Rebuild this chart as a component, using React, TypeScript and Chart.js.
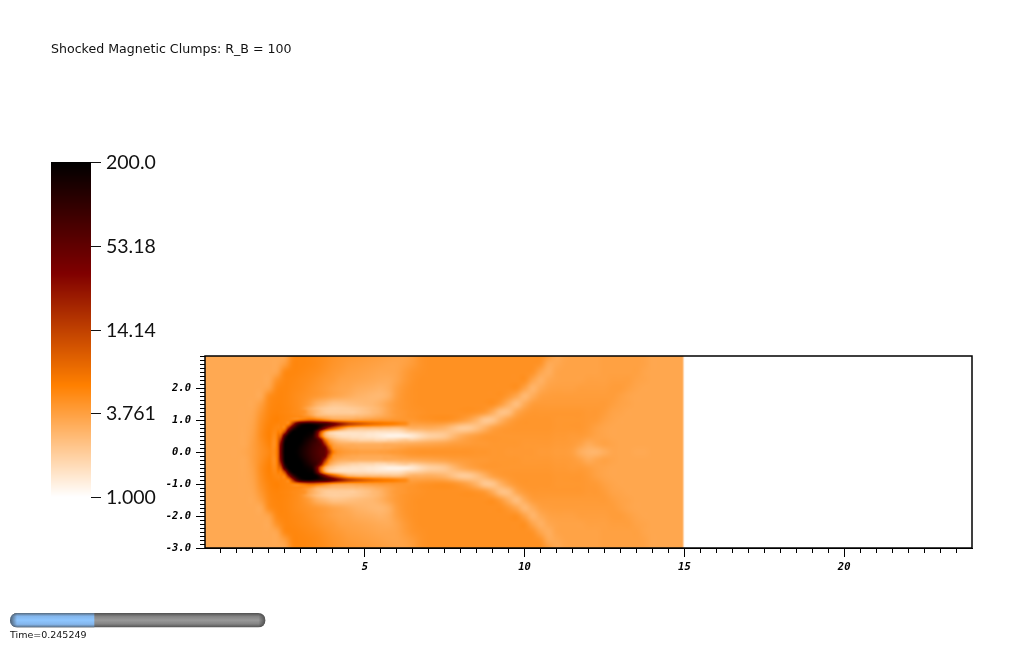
import React, { useEffect, useRef } from "react";
import { Chart, registerables } from "chart.js";

Chart.register(...registerables);

// ---------- text ----------
const titleText = "Shocked Magnetic Clumps: R_B = 100";
const timeText = "Time=0.245249";
const timeFraction = 0.33;
const colorbarValues = [200, 53.18, 14.14, 3.761, 1];
const colorbarLabels = ["200.0", "53.18", "14.14", "3.761", "1.000"];

// ---------- density field, upper half (the picture is mirrored about y = 0) ----------
// Coarse grid: x = 0..15 every 0.25, one row per y below
const coarseY = [0, 0.25, 0.5, 0.75, 1, 1.25, 1.5, 1.75, 2, 2.25, 2.5, 2.75, 3];
const coarseY000 = [
  3.3,3.3,3.3,3.3, 3.3,3.4,3.8,4.5, 5.2,6.5,120,200, 200,200,90,70, 6.5,4.2,3.9,3.8, 3.7,3.7,3.8,3.9, 4.0,4.2,4.3,4.4, 4.4,4.4,4.4,4.4,
  4.4,4.4,4.3,4.3, 4.2,4.2,4.1,4.1, 4.1,4.1,4.0,4.0, 3.9,3.9,3.7,3.1, 2.8,2.8,3.1,3.4, 3.4,3.4,3.3,3.3, 3.4,3.4,3.4,3.4, 3.4];
const coarseY025 = [
  3.3,3.3,3.3,3.3, 3.3,3.3,3.8,4.6, 5.5,6.2,180,200, 200,200,200,25, 3.9,3.2,3.0,3.0, 2.9,2.9,2.9,3.0, 3.0,3.1,3.2,3.3, 3.4,3.5,3.6,3.8,
  3.9,4.0,4.1,4.1, 4.2,4.2,4.2,4.2, 4.1,4.1,4.1,4.1, 4.0,4.0,3.9,3.6, 3.2,3.4,3.6,3.5, 3.4,3.4,3.4,3.4, 3.4,3.4,3.4,3.4, 3.4];
const coarseY050 = [
  3.3,3.3,3.3,3.3, 3.3,3.3,3.7,4.8, 5.7,5.8,50,200, 200,200,50,3.2, 1.9,1.6,1.55,1.5, 1.45,1.4,1.3,1.2, 1.2,1.25,1.4,1.65, 1.9,2.0,2.15,2.6,
  3.1,3.5,3.8,4.1, 4.2,4.2,4.2,4.2, 4.2,4.2,4.2,4.2, 4.1,4.1,4.0,4.0, 3.8,3.6,3.5,3.4, 3.4,3.4,3.4,3.4, 3.4,3.4,3.4,3.4, 3.4];
const coarseY075 = [
  3.3,3.3,3.3,3.3, 3.3,3.3,3.6,4.7, 5.6,5.3,6,40, 200,200,180,40, 12,5.5,3.2,2.8, 2.7,2.6,2.6,2.5, 2.4,2.7,3.0,3.0, 3.1,3.0,2.8,2.4,
  2.1,2.1,2.4,2.9, 3.6,4.0,4.2,4.3, 4.3,4.3,4.3,4.3, 4.2,4.2,4.2,4.2, 4.0,3.7,3.5,3.4, 3.4,3.4,3.4,3.4, 3.4,3.4,3.4,3.4, 3.4];
const coarseY100 = [
  3.3,3.3,3.3,3.3, 3.3,3.3,3.5,4.5, 5.4,5.7,5.6,5.3, 6,16,11,6, 4.5,4.0,3.8,3.9, 4.0,4.1,4.2,4.3, 4.3,4.2,4.2,4.4, 4.5,4.6,4.6,4.4,
  4.0,3.5,2.85,2.2, 2.25,2.9,3.6,4.1, 4.3,4.3,4.3,4.3, 4.2,4.2,4.2,4.2, 4.1,4.0,3.7,3.5, 3.4,3.4,3.4,3.4, 3.4,3.4,3.4,3.4, 3.4];
const coarseY125 = [
  3.3,3.3,3.3,3.3, 3.3,3.3,3.4,4.2, 5.2,5.5,5.4,5.1, 4.6,3.5,2.6,2.1, 2.0,2.0,2.0,2.1, 2.3,2.6,2.9,3.5, 4.0,4.3,4.4,4.5, 4.6,4.6,4.6,4.6,
  4.6,4.6,4.4,4.05, 3.2,2.4,2.45,3.35, 3.95,4.2,4.2,4.2, 4.2,4.2,4.2,4.2, 4.1,4.1,3.9,3.6, 3.5,3.4,3.4,3.4, 3.4,3.4,3.4,3.4, 3.4];
const coarseY150 = [
  3.3,3.3,3.3,3.3, 3.3,3.3,3.3,3.8, 5.0,5.4,5.3,5.0, 4.6,3.9,3.0,2.6, 2.3,2.3,2.4,2.5, 2.6,2.7,3.0,3.5, 4.0,4.3,4.5,4.6, 4.6,4.6,4.6,4.6,
  4.6,4.6,4.6,4.6, 4.6,3.9,3.0,2.5, 3.2,3.85,4.0,4.0, 4.0,4.0,4.0,4.0, 4.0,4.0,4.0,3.8, 3.6,3.5,3.4,3.4, 3.4,3.4,3.4,3.4, 3.4];
const coarseY175 = [
  3.3,3.3,3.3,3.3, 3.3,3.3,3.3,3.3, 4.7,5.3,5.3,5.0, 4.7,4.4,4.1,3.8, 3.5,3.3,3.1,2.9, 2.8,2.7,2.7,3.0, 3.8,4.3,4.5,4.6, 4.6,4.6,4.6,4.6,
  4.6,4.6,4.6,4.6, 4.6,4.6,4.1,3.4, 2.7,3.15,3.7,3.85, 3.9,3.9,3.9,3.9, 3.9,3.9,3.9,3.9, 3.7,3.5,3.4,3.4, 3.4,3.4,3.4,3.4, 3.4];
const coarseY200 = [
  3.3,3.3,3.3,3.3, 3.3,3.3,3.3,3.3, 3.6,5.0,5.3,5.1, 4.9,4.6,4.3,4.0, 3.7,3.5,3.4,3.2, 3.1,3.0,2.9,3.1, 3.7,4.2,4.5,4.6, 4.6,4.6,4.6,4.6,
  4.6,4.6,4.6,4.6, 4.6,4.6,4.6,4.6, 3.65,2.85,3.25,3.6, 3.7,3.7,3.7,3.8, 3.8,3.8,3.8,3.9, 3.9,3.7,3.5,3.4, 3.4,3.4,3.4,3.4, 3.4];
const coarseY225 = [
  3.3,3.3,3.3,3.3, 3.3,3.3,3.3,3.3, 3.3,4.4,5.2,5.2, 5.0,4.8,4.5,4.2, 4.0,3.7,3.6,3.5, 3.4,3.3,3.2,3.2, 3.5,4.0,4.4,4.6, 4.6,4.6,4.6,4.6,
  4.6,4.6,4.6,4.6, 4.6,4.6,4.6,4.6, 4.6,3.55,3.0,3.35, 3.55,3.6,3.6,3.6, 3.7,3.7,3.7,3.8, 3.8,3.8,3.6,3.5, 3.4,3.4,3.4,3.4, 3.4];
const coarseY250 = [
  3.3,3.3,3.3,3.3, 3.3,3.3,3.3,3.3, 3.3,3.5,5.0,5.3, 5.2,5.0,4.8,4.5, 4.2,4.0,3.8,3.7, 3.6,3.5,3.4,3.4, 3.5,3.9,4.3,4.5, 4.6,4.6,4.6,4.6,
  4.6,4.6,4.6,4.6, 4.6,4.6,4.6,4.6, 4.6,4.4,3.5,3.1, 3.5,3.6,3.6,3.6, 3.6,3.6,3.7,3.7, 3.7,3.7,3.7,3.5, 3.4,3.4,3.4,3.4, 3.4];
const coarseY275 = [
  3.3,3.3,3.3,3.3, 3.3,3.3,3.3,3.3, 3.3,3.3,3.9,5.2, 5.3,5.2,5.0,4.7, 4.4,4.2,4.0,3.9, 3.8,3.7,3.6,3.5, 3.5,3.7,4.0,4.4, 4.6,4.6,4.6,4.6,
  4.6,4.6,4.6,4.6, 4.6,4.6,4.6,4.6, 4.6,4.6,4.3,3.3, 3.35,3.55,3.6,3.6, 3.6,3.6,3.7,3.7, 3.7,3.7,3.7,3.6, 3.4,3.4,3.4,3.4, 3.4];
const coarseY300 = [
  3.3,3.3,3.3,3.3, 3.3,3.3,3.3,3.3, 3.3,3.3,3.4,5.0, 5.3,5.2,5.0,4.8, 4.5,4.3,4.2,4.1, 4.0,3.9,3.8,3.7, 3.6,3.6,3.9,4.4, 4.6,4.6,4.6,4.6,
  4.6,4.6,4.6,4.6, 4.6,4.6,4.6,4.6, 4.6,4.6,4.6,3.9, 3.3,3.5,3.6,3.6, 3.6,3.6,3.7,3.7, 3.7,3.7,3.7,3.6, 3.4,3.4,3.4,3.4, 3.4];
const coarseRows = [coarseY000, coarseY025, coarseY050, coarseY075, coarseY100, coarseY125, coarseY150, coarseY175, coarseY200, coarseY225, coarseY250, coarseY275, coarseY300];
const coarseXStart = 0;
const coarseXStep = 0.25;

// Fine grid around the clump and its tails: x = 2.25..6.5 every 0.125, one row per y below
const fineY = [0, 0.125, 0.25, 0.375, 0.5, 0.625, 0.75, 0.875, 1, 1.125, 1.25, 1.375];
const fineY0000 = [6.5,45,190,200,200,190,160,130,105,85,72,60,50,20,6.5,4.6,4.2,4.0,3.9,3.8,3.8,3.7,3.7,3.7,3.7,3.7,3.8,3.8,3.9,4.0,4.0,4.1,4.2,4.3,4.3];
const fineY0125 = [6.4,42,185,200,200,195,165,135,110,88,74,62,45,12,4.8,4.0,3.8,3.6,3.5,3.4,3.4,3.3,3.3,3.3,3.3,3.3,3.3,3.4,3.4,3.5,3.6,3.7,3.8,3.9,4.0];
const fineY0250 = [6.2,35,180,200,200,200,185,150,120,95,78,60,20,6.0,3.9,3.3,3.1,3.0,3.0,3.0,2.9,2.9,2.9,2.9,2.9,2.9,2.9,3.0,3.0,3.0,3.0,3.1,3.1,3.2,3.2];
const fineY0375 = [6,20,140,200,200,200,200,170,140,110,80,35,8,3.8,2.8,2.4,2.2,2.1,2.0,1.9,1.9,1.8,1.8,1.8,1.8,1.7,1.7,1.7,1.8,1.8,1.9,2.0,2.1,2.2,2.3];
const fineY0500 = [5.8,10,70,190,200,200,200,190,170,130,45,9,3.2,2.2,1.9,1.7,1.6,1.55,1.55,1.5,1.5,1.5,1.45,1.4,1.4,1.35,1.3,1.25,1.2,1.2,1.2,1.22,1.25,1.3,1.4];
const fineY0625 = [5.5,6,15,90,190,200,200,200,190,170,60,12,4,2.4,2,1.8,1.7,1.65,1.6,1.6,1.6,1.6,1.6,1.55,1.55,1.5,1.5,1.5,1.5,1.5,1.5,1.55,1.7,1.9,2.1];
const fineY0750 = [5.3,5.5,6,22,80,160,200,200,200,200,170,90,40,20,12,8,5.5,4,3.2,3.0,2.8,2.7,2.7,2.7,2.6,2.6,2.6,2.5,2.5,2.4,2.4,2.5,2.7,2.9,3.0];
const fineY0875 = [5.5,5.5,5.4,6,18,60,110,140,150,140,120,100,85,65,45,32,24,18,14,12,10.5,9.5,8.5,7.8,7.2,6.8,6.5,6.2,6,5.8,5.5,5.2,5,4.8,4.5];
const fineY1000 = [5.5,5.5,5.4,5.3,5.5,6,7,8,9,9,8,7,6,5.2,4.5,4.2,4,3.9,3.8,3.8,3.9,3.9,4,4,4.1,4.1,4.2,4.2,4.2,4.3,4.3,4.3,4.3,4.2,4.2];
const fineY1125 = [5.5,5.5,5.4,5.3,5.2,5.1,5.0,4.6,4.2,3.6,3,2.8,2.7,2.6,2.5,2.5,2.5,2.5,2.5,2.5,2.6,2.6,2.7,2.8,2.9,3.1,3.2,3.4,3.6,3.8,4,4.1,4.2,4.3,4.3];
const fineY1250 = [5.4,5.4,5.3,5.2,5.0,4.9,4.7,4.4,3.5,3.0,2.6,2.3,2.1,2.0,2,2,2,2,2,2,2.1,2.2,2.3,2.4,2.6,2.7,2.9,3.2,3.5,3.8,4,4.1,4.2,4.3,4.4];
const fineY1375 = [5.4,5.4,5.3,5.2,5.0,4.9,4.7,4.5,3.6,3.1,2.8,2.5,2.3,2.2,2.1,2.1,2.2,2.2,2.2,2.3,2.3,2.4,2.5,2.6,2.7,2.8,3.0,3.2,3.5,3.8,4,4.1,4.2,4.3,4.4];
const fineRows = [fineY0000, fineY0125, fineY0250, fineY0375, fineY0500, fineY0625, fineY0750, fineY0875, fineY1000, fineY1125, fineY1250, fineY1375];
const fineXStart = 2.25;
const fineXStep = 0.125;
const fieldXEnd = 15;

// ---------- helpers ----------
const LOG_MAX = Math.log(200);
function colormap(v: number): [number, number, number] {
  const p = Math.max(0, Math.min(1, Math.log(Math.max(v, 1)) / LOG_MAX));
  const stops: [number, number, number, number][] = [
    [0, 255, 255, 255],
    [0.333, 255, 128, 0],
    [0.667, 128, 0, 0],
    [1, 0, 0, 0],
  ];
  for (let i = 1; i < stops.length; i++) {
    if (p <= stops[i][0]) {
      const a = stops[i - 1];
      const b = stops[i];
      const t = (p - a[0]) / (b[0] - a[0]);
      return [a[1] + (b[1] - a[1]) * t, a[2] + (b[2] - a[2]) * t, a[3] + (b[3] - a[3]) * t];
    }
  }
  return [0, 0, 0];
}

function cr(a: number, b: number, c: number, d: number, t: number) {
  return b + 0.5 * t * (c - a + t * (2 * a - 5 * b + 4 * c - d + t * (3 * (b - c) + d - a)));
}

function sampleLog(rows: number[][], gx: number, gy: number) {
  const nr = rows.length;
  const nc = rows[0].length;
  const ix = Math.floor(gx);
  const iy = Math.floor(gy);
  const tx = gx - ix;
  const ty = gy - iy;
  const at = (r: number, c: number) => {
    const rr = r < 0 ? -r : Math.min(r, nr - 1);
    const cc = Math.max(0, Math.min(c, nc - 1));
    return Math.log(rows[rr][cc]);
  };
  const col = [0, 0, 0, 0];
  for (let k = 0; k < 4; k++) {
    const r = iy - 1 + k;
    col[k] = cr(at(r, ix - 1), at(r, ix), at(r, ix + 1), at(r, ix + 2), tx);
  }
  return cr(col[0], col[1], col[2], col[3], ty);
}

function smooth(t: number) {
  const u = Math.max(0, Math.min(1, t));
  return u * u * (3 - 2 * u);
}

function fieldAt(x: number, yy: number) {
  const y = Math.abs(yy);
  const coarse = sampleLog(coarseRows, (x - coarseXStart) / coarseXStep, y / (coarseY[1] - coarseY[0]));
  const xEndFine = fineXStart + fineXStep * (fineRows[0].length - 1);
  const yEndFine = fineY[fineY.length - 1];
  if (x <= fineXStart || x >= xEndFine || y >= yEndFine) return Math.exp(coarse);
  const w = smooth((x - fineXStart) / 0.125) * smooth((xEndFine - x) / 0.25) * smooth((yEndFine - y) / 0.125);
  const fine = sampleLog(fineRows, (x - fineXStart) / fineXStep, y / (fineY[1] - fineY[0]));
  return Math.exp(coarse * (1 - w) + fine * w);
}

const heatLayer = {
  id: "heatLayer",
  beforeDatasetsDraw(chart: any) {
    const { ctx, chartArea: a, scales } = chart;
    const w = Math.round(a.right - a.left);
    const h = Math.round(a.bottom - a.top);
    const img = ctx.createImageData(w, h);
    for (let j = 0; j < h; j++) {
      const yv = scales.y.getValueForPixel(a.top + j + 0.5);
      for (let i = 0; i < w; i++) {
        const xv = scales.x.getValueForPixel(a.left + i + 0.5);
        const fade = smooth((fieldXEnd + 0.02 - xv) / 0.1);
        let c: [number, number, number] = [255, 255, 255];
        if (fade > 0) {
          const q = colormap(fieldAt(Math.min(xv, fieldXEnd), yv));
          c = [255 + (q[0] - 255) * fade, 255 + (q[1] - 255) * fade, 255 + (q[2] - 255) * fade];
        }
        const o = (j * w + i) * 4;
        img.data[o] = c[0];
        img.data[o + 1] = c[1];
        img.data[o + 2] = c[2];
        img.data[o + 3] = 255;
      }
    }
    ctx.putImageData(img, Math.round(a.left), Math.round(a.top));
  },
  afterDraw(chart: any) {
    const { ctx, chartArea: a } = chart;
    ctx.save();

    // frame
    ctx.strokeStyle = "#000";
    ctx.lineWidth = 1.5;
    ctx.strokeRect(a.left, a.top, a.right - a.left, a.bottom - a.top);

    // title
    ctx.fillStyle = "#111";
    ctx.textBaseline = "middle";
    ctx.textAlign = "left";
    ctx.font = '12.6px "DejaVu Sans"';
    ctx.fillText(titleText, 51, 49.5);

    // colour bar
    const top = 162;
    const bottom = 497;
    for (let y = top; y < bottom; y++) {
      const pos = (bottom - y - 0.5) / (bottom - top);
      const c = colormap(Math.exp(pos * LOG_MAX));
      ctx.fillStyle = `rgb(${c[0]},${c[1]},${c[2]})`;
      ctx.fillRect(51, y, 40, 1);
    }
    ctx.font = '19.5px "Lato"';
    colorbarValues.forEach((v, i) => {
      const y = Math.round(bottom - (Math.log(v) / LOG_MAX) * (bottom - top));
      ctx.fillStyle = "#111";
      ctx.fillRect(91, y, 10, 1);
      ctx.fillText(colorbarLabels[i], 106, y + 1);
    });

    // time slider
    const bx = 10, by = 613, bw = 255.5, bh = 14.5;
    const path = new Path2D();
    path.roundRect(bx, by, bw, bh, bh / 2);
    ctx.save();
    ctx.clip(path);
    const grey = ctx.createLinearGradient(0, by, 0, by + bh);
    grey.addColorStop(0, "#505050");
    grey.addColorStop(0.25, "#858585");
    grey.addColorStop(0.5, "#999999");
    grey.addColorStop(0.75, "#858585");
    grey.addColorStop(1, "#505050");
    ctx.fillStyle = grey;
    ctx.fillRect(bx, by, bw, bh);
    const blue = ctx.createLinearGradient(0, by, 0, by + bh);
    blue.addColorStop(0, "#566a7e");
    blue.addColorStop(0.22, "#84b6ec");
    blue.addColorStop(0.5, "#8ec6ff");
    blue.addColorStop(0.78, "#84b6ec");
    blue.addColorStop(1, "#566a7e");
    ctx.fillStyle = blue;
    ctx.fillRect(bx, by, bw * timeFraction, bh);
    const capL = ctx.createLinearGradient(bx, 0, bx + 7, 0);
    capL.addColorStop(0, "rgba(50,50,50,0.7)");
    capL.addColorStop(1, "rgba(50,50,50,0)");
    ctx.fillStyle = capL;
    ctx.fillRect(bx, by, 7, bh);
    const capR = ctx.createLinearGradient(bx + bw - 7, 0, bx + bw, 0);
    capR.addColorStop(0, "rgba(50,50,50,0)");
    capR.addColorStop(1, "rgba(50,50,50,0.7)");
    ctx.fillStyle = capR;
    ctx.fillRect(bx + bw - 7, by, 7, bh);
    ctx.restore();

    ctx.fillStyle = "#111";
    ctx.font = '9.5px "DejaVu Sans"';
    ctx.fillText(timeText, 10, 636);
    ctx.restore();
  },
};

const tickFont = { family: '"DejaVu Sans Mono"', size: 10.5, style: "italic" as const, weight: "bold" as const };

export default function App() {
  const ref = useRef<HTMLCanvasElement>(null);
  useEffect(() => {
    if (!ref.current) return;
    const points: { x: number; y: number; v: number }[] = [];
    coarseRows.forEach((row, r) =>
      row.forEach((v, c) => {
        points.push({ x: coarseXStart + c * coarseXStep, y: coarseY[r], v });
        points.push({ x: coarseXStart + c * coarseXStep, y: -coarseY[r], v });
      })
    );
    const chart = new Chart(ref.current, {
      type: "scatter",
      data: { datasets: [{ label: "density", data: points, pointRadius: 0, showLine: false, xAxisID: "x", yAxisID: "y" }] },
      plugins: [heatLayer],
      options: {
        responsive: false,
        devicePixelRatio: 1,
        animation: false,
        layout: { padding: { top: 356, right: 52, left: 0, bottom: 0 } },
        plugins: { legend: { display: false }, title: { display: false }, tooltip: { enabled: false } },
        scales: {
          x: {
            type: "linear",
            position: "bottom",
            min: 0,
            max: 24,
            afterFit: (s: any) => { s.height = 97; },
            border: { color: "#000", width: 1 },
            grid: {
              drawOnChartArea: false,
              tickLength: 9,
              tickWidth: 1,
              tickColor: (c: any) => (c.tick && c.tick.value === 0 ? "rgba(0,0,0,0)" : "#000"),
            },
            ticks: {
              stepSize: 5,
              includeBounds: false,
              autoSkip: false,
              maxRotation: 0,
              padding: 4,
              color: "#000",
              font: tickFont,
              callback: (v: any) => (v === 0 ? "" : String(v)),
            },
          },
          y: {
            type: "linear",
            position: "left",
            min: -3,
            max: 3,
            afterFit: (s: any) => { s.width = 205; },
            border: { color: "#000", width: 1 },
            grid: {
              drawOnChartArea: false,
              tickLength: 9,
              tickWidth: 1,
              tickColor: (c: any) => (c.tick && c.tick.value === 3 ? "rgba(0,0,0,0)" : "#000"),
            },
            ticks: {
              stepSize: 1,
              autoSkip: false,
              padding: 5,
              color: "#000",
              font: tickFont,
              callback: (v: any) => (v === 3 ? "" : Number(v).toFixed(1)),
            },
          },
          xMinor: {
            type: "linear",
            axis: "x",
            position: { y: -3 },
            min: 0,
            max: 24,
            border: { display: false },
            grid: {
              drawOnChartArea: false,
              tickLength: 5,
              tickWidth: 1,
              tickColor: (c: any) => (c.tick && (c.tick.value === 0 || c.tick.value === 24) ? "rgba(0,0,0,0)" : "#000"),
            },
            ticks: { stepSize: 0.5, includeBounds: false, autoSkip: false, display: false },
          },
          yMinor: {
            type: "linear",
            axis: "y",
            position: { x: 0 },
            min: -3,
            max: 3,
            border: { display: false },
            grid: { drawOnChartArea: false, tickLength: 5, tickWidth: 1, tickColor: "#000" },
            ticks: { stepSize: 0.125, autoSkip: false, display: false },
          },
        },
      } as any,
    });
    return () => chart.destroy();
  }, []);
  return (
    <canvas
      ref={ref}
      width={1024}
      height={645}
      style={{ position: "fixed", left: 0, top: 0, width: 1024, height: 645, display: "block" }}
    />
  );
}
